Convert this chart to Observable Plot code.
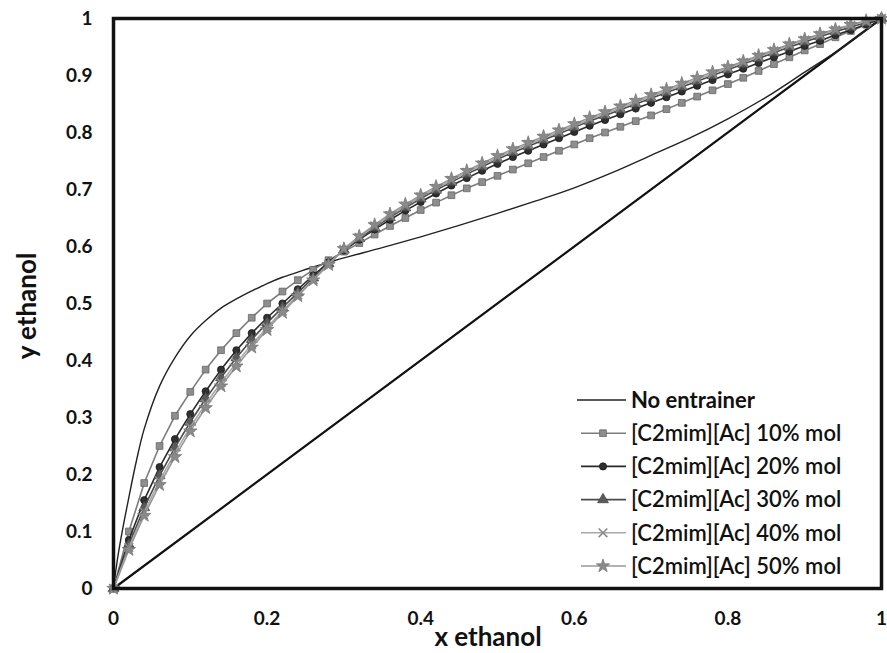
<!DOCTYPE html>
<html>
<head>
<meta charset="utf-8">
<script src="https://cdn.jsdelivr.net/npm/d3@7"></script>
<script src="https://cdn.jsdelivr.net/npm/@observablehq/plot@0.6"></script>
<style>
  html, body { margin: 0; padding: 0; background: white; }
</style>
</head>
<body>
<div id="chart"></div>
<script>
// Tick labels
const xTicks = [0, 0.2, 0.4, 0.6, 0.8, 1];
const yTicks = [0, 0.1, 0.2, 0.3, 0.4, 0.5, 0.6, 0.7, 0.8, 0.9, 1];

// Diagonal y = x
const diagX = [0, 1];
const diagY = [0, 1];

// No entrainer curve
const noX = [0, 0.005, 0.01, 0.02, 0.03, 0.04, 0.06, 0.08, 0.10, 0.12, 0.14, 0.16, 0.18, 0.20, 0.22, 0.24, 0.26, 0.28, 0.30, 0.35, 0.40, 0.45, 0.50, 0.55, 0.60, 0.65, 0.70, 0.75, 0.80, 0.85, 0.90, 0.95, 1.0];
const noY = [0, 0.05, 0.09, 0.16, 0.225, 0.28, 0.355, 0.405, 0.443, 0.47, 0.492, 0.508, 0.522, 0.535, 0.546, 0.555, 0.564, 0.572, 0.58, 0.598, 0.617, 0.637, 0.658, 0.68, 0.703, 0.73, 0.76, 0.79, 0.824, 0.862, 0.906, 0.95, 1.0];

// IL series x grid
const ilX = [0, 0.02, 0.04, 0.06, 0.08, 0.10, 0.12, 0.14, 0.16, 0.18, 0.20, 0.22, 0.24, 0.26, 0.28, 0.30, 0.32, 0.34, 0.36, 0.38, 0.40, 0.42, 0.44, 0.46, 0.48, 0.50, 0.52, 0.54, 0.56, 0.58, 0.60, 0.62, 0.64, 0.66, 0.68, 0.70, 0.72, 0.74, 0.76, 0.78, 0.80, 0.82, 0.84, 0.86, 0.88, 0.90, 0.92, 0.94, 0.96, 0.98, 1.0];

const y10 = [0, 0.10, 0.185, 0.25, 0.303, 0.345, 0.384, 0.418, 0.448, 0.475, 0.50, 0.521, 0.541, 0.559, 0.576, 0.591, 0.606, 0.621, 0.636, 0.650, 0.664, 0.677, 0.690, 0.702, 0.713, 0.724, 0.735, 0.746, 0.757, 0.768, 0.779, 0.790, 0.800, 0.810, 0.820, 0.830, 0.841, 0.852, 0.863, 0.874, 0.885, 0.896, 0.908, 0.920, 0.932, 0.944, 0.955, 0.967, 0.978, 0.989, 1.0];
const y20 = [0, 0.085, 0.155, 0.213, 0.262, 0.306, 0.346, 0.384, 0.418, 0.448, 0.475, 0.500, 0.525, 0.549, 0.572, 0.593, 0.612, 0.630, 0.647, 0.663, 0.678, 0.693, 0.707, 0.720, 0.733, 0.745, 0.757, 0.768, 0.779, 0.790, 0.801, 0.812, 0.822, 0.832, 0.842, 0.852, 0.862, 0.872, 0.882, 0.892, 0.902, 0.912, 0.922, 0.932, 0.942, 0.952, 0.961, 0.971, 0.980, 0.990, 1.0];
const y30 = [0, 0.077, 0.142, 0.198, 0.247, 0.292, 0.333, 0.370, 0.405, 0.437, 0.466, 0.493, 0.519, 0.545, 0.570, 0.594, 0.614, 0.633, 0.651, 0.668, 0.684, 0.699, 0.713, 0.727, 0.740, 0.753, 0.765, 0.776, 0.787, 0.798, 0.809, 0.820, 0.830, 0.840, 0.850, 0.860, 0.870, 0.880, 0.890, 0.900, 0.910, 0.920, 0.930, 0.940, 0.950, 0.959, 0.968, 0.977, 0.985, 0.993, 1.0];
const y40 = [0, 0.072, 0.134, 0.189, 0.238, 0.283, 0.324, 0.361, 0.396, 0.428, 0.458, 0.487, 0.515, 0.542, 0.569, 0.595, 0.616, 0.636, 0.654, 0.671, 0.687, 0.702, 0.716, 0.730, 0.743, 0.756, 0.768, 0.779, 0.790, 0.801, 0.812, 0.823, 0.833, 0.843, 0.853, 0.863, 0.873, 0.883, 0.893, 0.903, 0.913, 0.923, 0.933, 0.943, 0.953, 0.962, 0.971, 0.980, 0.988, 0.995, 1.0];
const y50 = [0, 0.068, 0.128, 0.182, 0.231, 0.276, 0.317, 0.355, 0.390, 0.423, 0.454, 0.484, 0.513, 0.541, 0.568, 0.596, 0.618, 0.638, 0.657, 0.674, 0.690, 0.705, 0.719, 0.733, 0.746, 0.759, 0.771, 0.782, 0.793, 0.804, 0.815, 0.826, 0.836, 0.846, 0.856, 0.866, 0.876, 0.886, 0.896, 0.906, 0.915, 0.925, 0.935, 0.945, 0.955, 0.964, 0.973, 0.981, 0.989, 0.996, 1.0];

const seriesNames = ["No entrainer", "[C2mim][Ac] 10% mol", "[C2mim][Ac] 20% mol", "[C2mim][Ac] 30% mol", "[C2mim][Ac] 40% mol", "[C2mim][Ac] 50% mol"];

// styles (not data)
const ilStyles = [
  {ys: y10, name: seriesNames[1], line: "#7c7c7c", fill: "#8e8e8e", stroke: "#666", symbol: "square", r: 3.8},
  {ys: y20, name: seriesNames[2], line: "#2a2a2a", fill: "#2f2f2f", stroke: "#1a1a1a", symbol: "circle", r: 3.6},
  {ys: y30, name: seriesNames[3], line: "#4a4a4a", fill: "#5a5a5a", stroke: "#444", symbol: "triangle", r: 4},
  {ys: y40, name: seriesNames[4], line: "#a8a8a8", fill: "#999", stroke: "#8a8a8a", symbol: "times", r: 4},
  {ys: y50, name: seriesNames[5], line: "#989898", fill: "#8a8a8a", stroke: "#7a7a7a", symbol: "star", r: 4.2}
];

const noData = noX.map((x, i) => ({x, y: noY[i]}));
const diagData = diagX.map((x, i) => ({x, y: diagY[i]}));

const marks = [
  Plot.line(diagData, {x: "x", y: "y", stroke: "#111", strokeWidth: 2.2}),
  Plot.line(noData, {x: "x", y: "y", stroke: "#222", strokeWidth: 1.4, curve: "catmull-rom"})
];
for (const s of ilStyles) {
  const data = ilX.map((x, i) => ({x, y: s.ys[i]}));
  marks.push(Plot.line(data, {x: "x", y: "y", stroke: s.line, strokeWidth: 1.6}));
  marks.push(Plot.dot(data, {x: "x", y: "y", symbol: () => s.symbol, r: s.r, fill: s.symbol === "times" ? "none" : s.fill, stroke: s.stroke, strokeWidth: s.symbol === "times" ? 1.6 : 0.8}));
}
marks.push(Plot.frame({stroke: "#111", strokeWidth: 3.5}));
marks.push(Plot.axisX({ticks: xTicks, tickSize: 0, tickPadding: 23, tickFormat: d3.format("~g"), fontSize: 19, fontWeight: "bold", fill: "#111", label: null}));
marks.push(Plot.axisY({ticks: yTicks, tickSize: 0, tickPadding: 21, tickFormat: d3.format("~g"), fontSize: 19, fontWeight: "bold", fill: "#111", label: null}));

const chart = Plot.plot({
  width: 887,
  height: 653,
  marginLeft: 113,
  marginRight: 6,
  marginTop: 18,
  marginBottom: 65,
  x: {domain: [0, 1]},
  y: {domain: [0, 1]},
  symbol: {type: "identity"},
  style: {fontFamily: "Lato, 'Open Sans', sans-serif", background: "white", overflow: "visible"},
  marks
});
document.getElementById("chart").appendChild(chart);

// Axis titles and legend
const svg = d3.select(chart);
svg.append("text").attr("x", 488).attr("y", 646).attr("text-anchor", "middle")
  .attr("font-family", "Lato, sans-serif").attr("font-weight", "bold").attr("font-size", 26).attr("fill", "#111")
  .text("x ethanol");
svg.append("text").attr("transform", "translate(36,306) rotate(-90)").attr("text-anchor", "middle")
  .attr("font-family", "Lato, sans-serif").attr("font-weight", "bold").attr("font-size", 26).attr("fill", "#111")
  .text("y ethanol");

const leg = svg.append("g").attr("font-family", "Lato, sans-serif").attr("font-size", 22).attr("fill", "#111").attr("text-anchor", "start");
const rowY0 = 400, rowDy = 33.2;
const legendRows = [{name: seriesNames[0], line: "#222", width: 1.4, symbol: null}].concat(ilStyles.map(s => ({name: s.name, line: s.line, width: 1.6, symbol: s.symbol, fill: s.fill, stroke: s.stroke, r: s.r})));
const symMap = {square: d3.symbolSquare, circle: d3.symbolCircle, triangle: d3.symbolTriangle, times: d3.symbolTimes, star: d3.symbolStar};
legendRows.forEach((row, i) => {
  const y = rowY0 + i * rowDy;
  leg.append("line").attr("x1", i === 0 ? 577 : 581).attr("x2", 626).attr("y1", y).attr("y2", y)
    .attr("stroke", row.line).attr("stroke-width", row.width);
  if (row.symbol) {
    const area = Math.PI * row.r * row.r;
    leg.append("path").attr("d", d3.symbol(symMap[row.symbol], area)()).attr("transform", `translate(603,${y})`)
      .attr("fill", row.symbol === "times" ? "none" : row.fill).attr("stroke", row.stroke).attr("stroke-width", row.symbol === "times" ? 1.6 : 0.8);
  }
  leg.append("text").attr("x", 631).attr("y", y).attr("dy", "0.35em").attr("font-weight", i === 0 ? "bold" : 600).text(row.name);
});
</script>
</body>
</html>
